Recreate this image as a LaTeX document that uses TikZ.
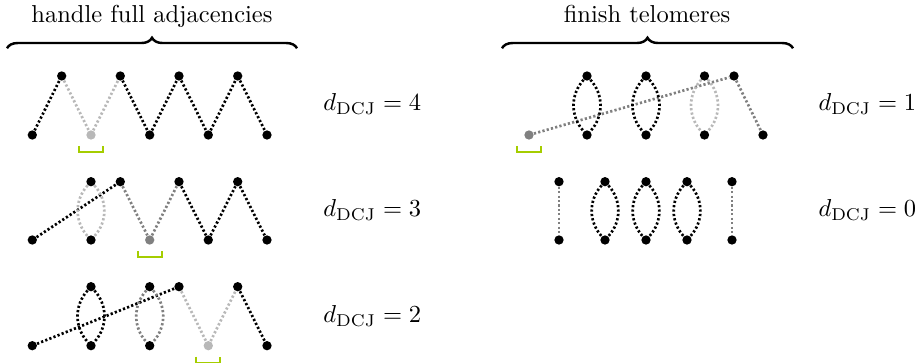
\documentclass[tikz,border=0pt]{standalone}
\usetikzlibrary{decorations.pathreplacing}
\pgfdeclarelayer{bg}
\pgfsetlayers{bg,main}
\definecolor{midgray}{gray}{0.5}
\definecolor{lightgray2}{gray}{0.72}
\definecolor{limegreen}{RGB}{165,205,0}
\tikzset{
 pt/.style={circle,fill=black,inner sep=0pt,minimum size=3.8pt},
 gpt/.style={pt,fill=midgray},
 lpt/.style={pt,fill=lightgray2},
 dl/.style={line width=1.1pt,dash pattern=on 0.9pt off 0.9pt},
 blk/.style={dl,draw=black},
 mid/.style={dl,draw=midgray},
 lgt/.style={dl,draw=lightgray2},
 brk/.style={draw=limegreen,line width=0.8pt},
 lbl/.style={anchor=base west,inner sep=0pt},
 ttl/.style={anchor=base,inner sep=0pt},
 br/.style={decorate,decoration={brace,amplitude=4.3pt},line width=1pt}
}
\begin{document}
\begin{tikzpicture}[x=0.4082pt,y=-0.4082pt]
\useasboundingbox (0,0) rectangle (915,363);
% titles and braces
\node[ttl] (t1) at (152,23) {handle full adjacencies};
\node[ttl] (t2) at (647,23) {finish telomeres};
\draw[br] (7,48.3) -- (297,48.3);
\draw[br] (502,48.3) -- (793,48.3);
% row 1 left
\node[pt] (a1) at (32.3,135) {};
\node[pt] (a2) at (61.7,76) {};
\node[lpt] (a3) at (91,135) {};
\node[pt] (a4) at (120.3,76) {};
\node[pt] (a5) at (149.7,135) {};
\node[pt] (a6) at (179,76) {};
\node[pt] (a7) at (208.3,135) {};
\node[pt] (a8) at (237.7,76) {};
\node[pt] (a9) at (267,135) {};
% row 2 left
\node[pt] (b1) at (32.3,240) {};
\node[pt] (b2) at (91,181.7) {};
\node[pt] (b3) at (91,240) {};
\node[pt] (b4) at (120.3,181.7) {};
\node[gpt] (b5) at (149.7,240) {};
\node[pt] (b6) at (179,181.7) {};
\node[pt] (b7) at (208.3,240) {};
\node[pt] (b8) at (237.7,181.7) {};
\node[pt] (b9) at (267,240) {};
% row 3 left
\node[pt] (c1) at (32.3,345.7) {};
\node[pt] (c2) at (91,286.7) {};
\node[pt] (c3) at (91,345.7) {};
\node[pt] (c4) at (149.7,286.7) {};
\node[pt] (c5) at (149.7,345.7) {};
\node[pt] (c6) at (179,286.7) {};
\node[lpt] (c7) at (208.3,345.7) {};
\node[pt] (c8) at (237.7,286.7) {};
\node[pt] (c9) at (267,345.7) {};
% row 1 right
\node[gpt] (d1) at (529,135) {};
\node[pt] (d2) at (587,76) {};
\node[pt] (d3) at (587,135) {};
\node[pt] (d4) at (646,76) {};
\node[pt] (d5) at (646,135) {};
\node[pt] (d6) at (704.5,76) {};
\node[pt] (d7) at (704.5,135) {};
\node[pt] (d8) at (734,76) {};
\node[pt] (d9) at (763,135) {};
% row 2 right
\node[pt] (e1) at (559,181.7) {};
\node[pt] (e2) at (559,240) {};
\node[pt] (e3) at (605,181.7) {};
\node[pt] (e4) at (605,240) {};
\node[pt] (e5) at (646,181.7) {};
\node[pt] (e6) at (646,240) {};
\node[pt] (e7) at (687,181.7) {};
\node[pt] (e8) at (687,240) {};
\node[pt] (e9) at (732,181.7) {};
\node[pt] (e10) at (732,240) {};
% labels
\node[lbl] (l1) at (323,111) {$d_{\mathrm{DCJ}} = 4$};
\node[lbl] (l2) at (323,217) {$d_{\mathrm{DCJ}} = 3$};
\node[lbl] (l3) at (323,323) {$d_{\mathrm{DCJ}} = 2$};
\node[lbl] (l4) at (818,111) {$d_{\mathrm{DCJ}} = 1$};
\node[lbl] (l5) at (818,217) {$d_{\mathrm{DCJ}} = 0$};
% brackets
\draw[brk] ([shift={(-12,11)}]a3.center) -- ++(0,6) -- ++(24,0) -- ++(0,-6);
\draw[brk] ([shift={(-12,11)}]b5.center) -- ++(0,6) -- ++(24,0) -- ++(0,-6);
\draw[brk] ([shift={(-12,11)}]c7.center) -- ++(0,6) -- ++(24,0) -- ++(0,-6);
\draw[brk] ([shift={(-12,11)}]d1.center) -- ++(0,6) -- ++(24,0) -- ++(0,-6);
\begin{pgfonlayer}{bg}
% row 1 left
\draw[blk] (a1) -- (a2);
\draw[lgt] (a2) -- (a3) -- (a4);
\draw[blk] (a4) -- (a5) -- (a6) -- (a7) -- (a8) -- (a9);
% row 2 left
\draw[blk] (b1) -- (b4);
\draw[lgt] (b2) to[bend left=42] (b3);
\draw[lgt] (b2) to[bend right=42] (b3);
\draw[mid] (b4) -- (b5) -- (b6);
\draw[blk] (b6) -- (b7) -- (b8) -- (b9);
% row 3 left
\draw[blk] (c1) -- (c6);
\draw[blk] (c2) to[bend left=42] (c3);
\draw[blk] (c2) to[bend right=42] (c3);
\draw[mid] (c4) to[bend left=42] (c5);
\draw[mid] (c4) to[bend right=42] (c5);
\draw[lgt] (c6) -- (c7) -- (c8);
\draw[blk] (c8) -- (c9);
% row 1 right
\draw[mid] (d1) -- (d8) -- (d9);
\draw[blk] (d2) to[bend left=42] (d3);
\draw[blk] (d2) to[bend right=42] (d3);
\draw[blk] (d4) to[bend left=42] (d5);
\draw[blk] (d4) to[bend right=42] (d5);
\draw[lgt] (d6) to[bend left=42] (d7);
\draw[lgt] (d6) to[bend right=42] (d7);
% row 2 right
\draw[mid] (e1) -- (e2);
\draw[blk] (e3) to[bend left=42] (e4);
\draw[blk] (e3) to[bend right=42] (e4);
\draw[blk] (e5) to[bend left=42] (e6);
\draw[blk] (e5) to[bend right=42] (e6);
\draw[blk] (e7) to[bend left=42] (e8);
\draw[blk] (e7) to[bend right=42] (e8);
\draw[mid] (e9) -- (e10);
\end{pgfonlayer}
\end{tikzpicture}
\end{document}
